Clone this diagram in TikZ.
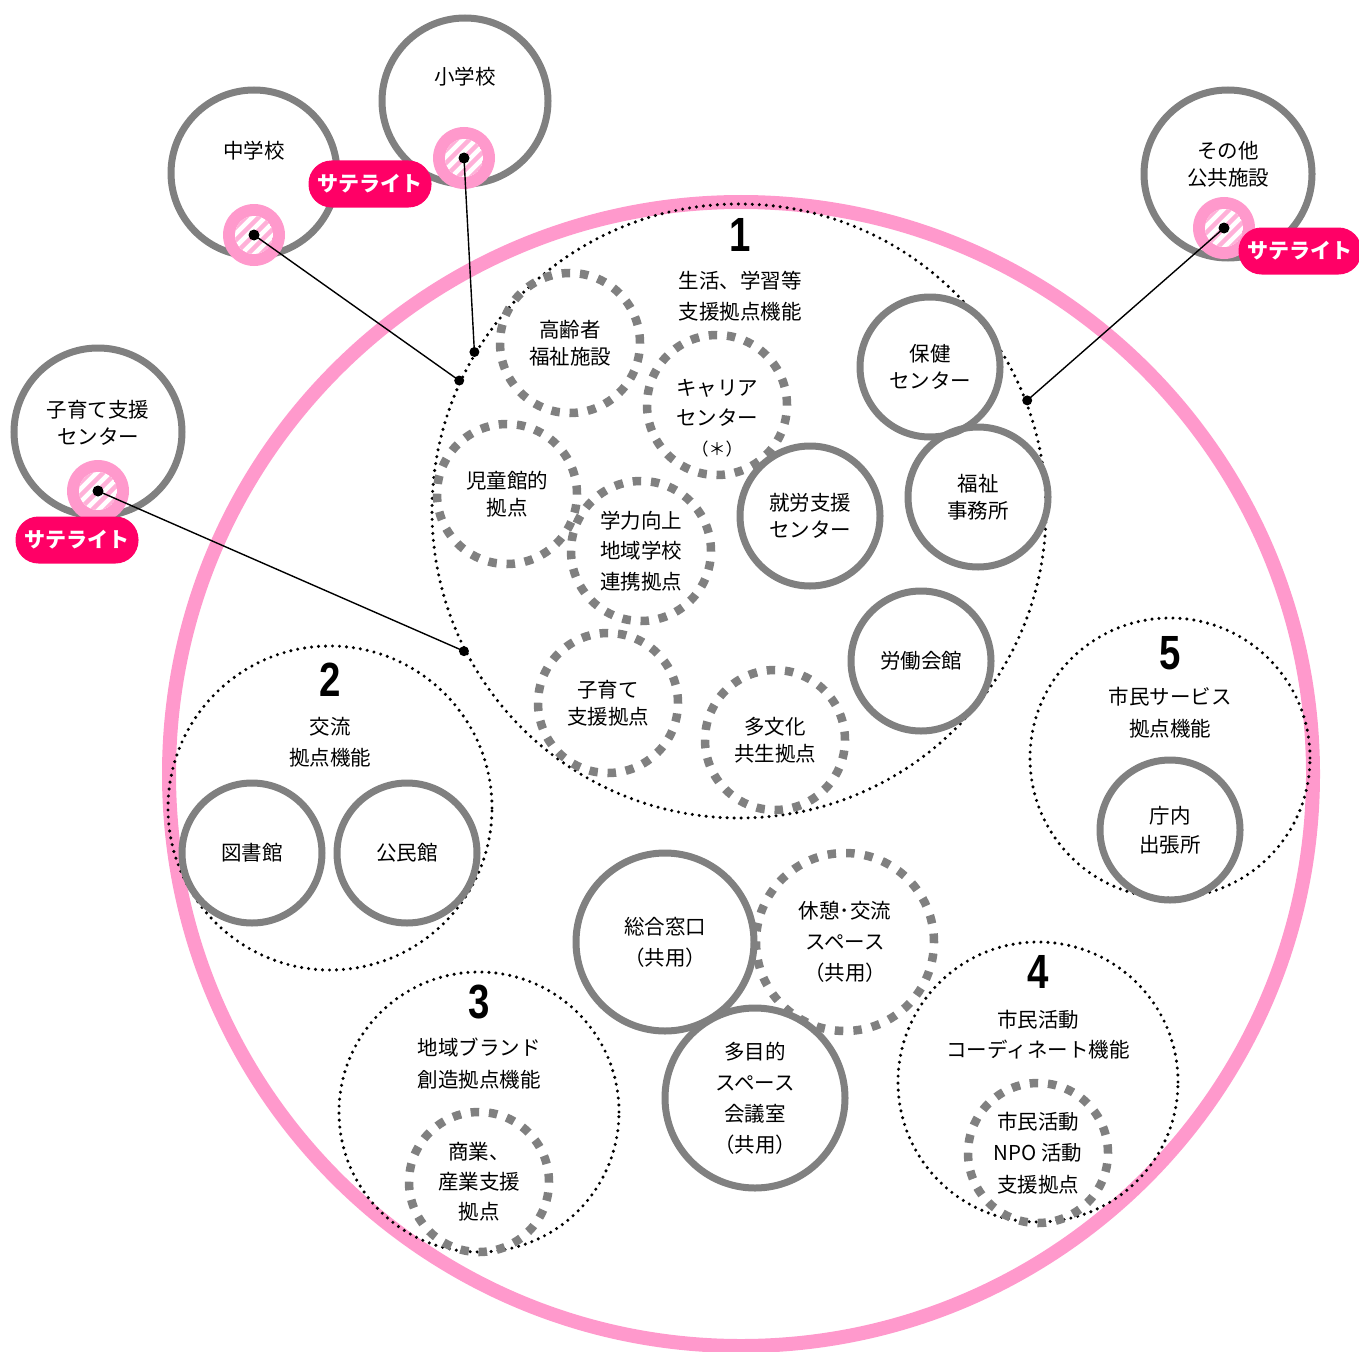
\documentclass[tikz,border=0pt]{standalone}
\usepackage{fontspec}
\setmainfont{Noto Sans CJK JP}
\newfontfamily\numfont{Liberation Sans}
\definecolor{gry}{HTML}{808080}
\definecolor{bigpink}{HTML}{FF99CC}
\definecolor{satpink}{HTML}{FF99CC}
\definecolor{stripe}{HTML}{FFB0D8}
\definecolor{satred}{HTML}{FF0066}
\newcommand\satmark[3]{%
  \coordinate (#1) at (#2,#3);
  \fill[satpink] (#1) circle (31);
  \begin{scope}
    \clip (#1) circle (19);
    \fill[white] (#1) circle (19);
    \foreach \k in {-4,...,4}{\draw[stripe, line width=4.5] ([shift={({\k*13-30},30)}]#1) -- ++(60,-60);}
  \end{scope}
  \fill (#1) circle (5.5);}
\begin{document}
\begin{tikzpicture}[x=1pt,y=-1pt,
  font=\fontsize{20.5}{27}\selectfont,
  solidc/.style={circle, draw=gry, line width=7, minimum size=140, inner sep=0, align=center},
  dashc/.style={circle, draw=gry, line width=8.5, dash pattern=on 8.5 off 9.8, minimum size=140, inner sep=0, align=center},
  dotc/.style={circle, draw=black, line width=3.4, line cap=round, dash pattern=on 0 off 7, inner sep=0},
  num/.style={inner sep=0, font=\numfont\bfseries\fontsize{48}{48}\selectfont},
  lbl/.style={align=center, inner sep=0},
  sat/.style={fill=satred, text=white, rounded corners=23, minimum width=123, minimum height=47, inner sep=0, font=\bfseries\fontsize{21}{21}\selectfont},
  conn/.style={draw=black, line width=1.4}]
\useasboundingbox (0,0) rectangle (1359,1351);

% big pink circle
\node[circle, draw=bigpink, line width=14, minimum size=1144, inner sep=0] (big) at (741,774) {};

% function circles (dotted)
\node[dotc, minimum size=614] (c1) at (739,511) {};
\node[dotc, minimum size=324] (c2) at (330,808) {};
\node[dotc, minimum size=280] (c3) at (479,1112) {};
\node[dotc, minimum size=280] (c4) at (1038,1082) {};
\node[dotc, minimum size=280] (c5) at (1170,758) {};

% numbers and titles
\node[num] (n1) at (740,235) {\scalebox{0.8}[1]{1}};
\node[lbl, font=\fontsize{20.5}{31}\selectfont] (t1) at (740,296) {生活、学習等\\支援拠点機能};
\node[num] (n2) at (330,680) {\scalebox{0.8}[1]{2}};
\node[lbl, font=\fontsize{20.5}{31}\selectfont] (t2) at (330,742) {交流\\拠点機能};
\node[num] (n3) at (479,1002) {\scalebox{0.8}[1]{3}};
\node[lbl, font=\fontsize{20.5}{32}\selectfont] (t3) at (479,1064) {地域ブランド\\創造拠点機能};
\node[num] (n4) at (1038,972) {\scalebox{0.8}[1]{4}};
\node[lbl, font=\fontsize{20.5}{30}\selectfont] (t4) at (1038,1035) {市民活動\\コーディネート機能};
\node[num] (n5) at (1170,653) {\scalebox{0.8}[1]{5}};
\node[lbl, font=\fontsize{20.5}{32}\selectfont] (t5) at (1170,713) {市民サービス\\拠点機能};

% group 1 members
\node[dashc] (koreisha) at (570,343) {高齢者\\福祉施設};
\node[dashc] (career) at (717,405) {};
\node[lbl, font=\fontsize{20.5}{30}\selectfont] (careert) at (717,418) {キャリア\\センター\\{\fontsize{17}{17}\selectfont （＊）}};
\node[dashc] (jidokan) at (507,494) {児童館的\\拠点};
\node[dashc, font=\fontsize{20.5}{30.5}\selectfont] (gakuryoku) at (641,551) {学力向上\\地域学校\\連携拠点};
\node[dashc] (kosodate) at (608,703) {子育て\\支援拠点};
\node[dashc] (tabunka) at (775,740) {多文化\\共生拠点};
\node[solidc] (hoken) at (930,367) {保健\\センター};
\node[solidc] (fukushi) at (978,497) {福祉\\事務所};
\node[solidc] (shuro) at (810,516) {就労支援\\センター};
\node[solidc] (rodo) at (921,661) {労働会館};

% group 2
\node[solidc] (tosho) at (252,853) {図書館};
\node[solidc] (komin) at (407,853) {公民館};

% group 3
\node[dashc, font=\fontsize{20.5}{30}\selectfont] (shogyo) at (479,1182) {商業、\\産業支援\\拠点};

% group 4
\node[dashc, font=\fontsize{20.5}{31.5}\selectfont] (npo) at (1038,1153) {市民活動\\NPO 活動\\支援拠点};

% group 5
\node[solidc, font=\fontsize{20.5}{29}\selectfont] (chonai) at (1170,830) {庁内\\出張所};

% shared
\node[solidc, minimum size=178, font=\fontsize{20.5}{31}\selectfont] (madoguchi) at (665,942) {総合窓口\\（共用）};
\node[dashc, minimum size=178, dash pattern=on 8.5 off 10.1, font=\fontsize{20.5}{31}\selectfont] (kyukei) at (845,942) {休憩･交流\\スペース\\（共用）};
\node[solidc, minimum size=180, font=\fontsize{20.5}{31}\selectfont] (tamokuteki) at (755,1098) {多目的\\スペース\\会議室\\（共用）};

% satellite facilities
\node[solidc, minimum size=166] (chu) at (254,173) {};
\node[lbl] (chut) at (254,151) {中学校};
\node[solidc, minimum size=166] (sho) at (465,101) {};
\node[lbl] (shot) at (465,77) {小学校};
\node[solidc, minimum size=168] (sonota) at (1228,174) {};
\node[lbl] (sonotat) at (1228,164) {その他\\公共施設};
\node[solidc, minimum size=168] (kosocen) at (98,432) {};
\node[lbl] (kosocent) at (98,423) {子育て支援\\センター};

% satellite markers
\satmark{m1}{254}{235}
\satmark{m2}{464}{158}
\satmark{m3}{1224}{228}
\satmark{m4}{98}{491}

% satellite labels
\node[sat] (s1) at (370,184) {サテライト};
\node[sat] (s3) at (1300,251) {サテライト};
\node[sat] (s4) at (77,540) {サテライト};

% connectors
\coordinate (e1) at (c1.155);
\coordinate (e2) at (c1.149);
\coordinate (e3) at (c1.21);
\coordinate (e4) at (c1.207);
\draw[conn] (m1) -- (e1);
\draw[conn] (m2) -- (e2);
\draw[conn] (m3) -- (e3);
\draw[conn] (m4) -- (e4);
\foreach \e in {e1,e2,e3,e4} \fill (\e) circle (5);
\end{tikzpicture}
\end{document}
